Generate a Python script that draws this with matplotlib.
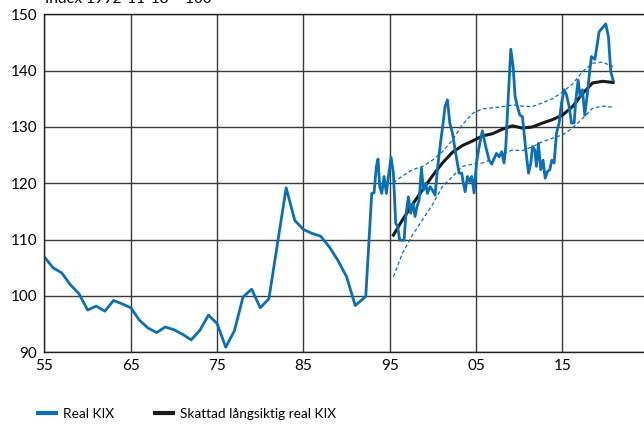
import matplotlib.pyplot as plt
from matplotlib.lines import Line2D

plt.rcParams['font.family'] = ['Lato', 'DejaVu Sans']

# annual values 1955-1991
years_annual = list(range(1955, 1992))
kix_annual = [106.9, 105.0, 104.1, 102.0, 100.4, 97.5, 98.2, 97.3, 99.2, 98.6,
              97.9, 95.7, 94.3, 93.5, 94.5, 94.0, 93.2, 92.2, 93.9, 96.6,
              95.1, 90.9, 93.8, 99.8, 101.2, 97.9, 99.5, 109.3, 119.2, 113.4,
              111.8, 111.1, 110.6, 108.7, 106.3, 103.4, 98.3]

# higher frequency values from 1992
years_recent = [1992.22, 1992.91, 1993.18, 1993.45, 1993.64, 1993.84, 1994.07, 1994.34,
                1994.61, 1994.84, 1995.15, 1995.42, 1995.69, 1995.92, 1996.15, 1996.66,
                1996.85, 1997.16, 1997.43, 1997.70, 1997.93, 1998.16, 1998.40, 1998.67,
                1998.90, 1999.17, 1999.36, 1999.67, 1999.94, 2000.25, 2000.56, 2000.87,
                2001.18, 2001.41, 2001.68, 2001.95, 2002.26, 2002.64, 2003.03, 2003.34,
                2003.49, 2003.73, 2004.00, 2004.27, 2004.50, 2004.77, 2005.04, 2005.42,
                2005.73, 2006.12, 2006.51, 2006.82, 2007.09, 2007.36, 2007.67, 2007.97,
                2008.24, 2008.44, 2008.71, 2009.02, 2009.29, 2009.52, 2009.79, 2010.07,
                2010.37, 2010.76, 2011.07, 2011.34, 2011.53, 2011.80, 2011.99, 2012.22,
                2012.49, 2012.76, 2013.00, 2013.27, 2013.54, 2013.77, 2014.04, 2014.31,
                2014.62, 2014.89, 2015.20, 2015.47, 2015.78, 2016.05, 2016.36, 2016.55,
                2016.82, 2017.05, 2017.32, 2017.59, 2017.90, 2018.09, 2018.36, 2018.75,
                2018.94, 2019.25, 2020.02, 2020.33, 2020.60, 2020.87]
kix_recent = [99.9, 118.2, 118.3, 123.0, 124.3, 119.4, 118.2, 121.2,
              118.2, 121.2, 124.6, 121.8, 112.9, 112.3, 109.9, 109.9,
              114.1, 117.6, 114.7, 116.4, 114.1, 115.9, 117.0, 122.7,
              118.8, 120.0, 118.2, 119.4, 118.8, 117.9, 123.0, 127.1,
              130.7, 133.7, 134.8, 130.7, 128.9, 125.3, 121.8, 121.8,
              120.3, 118.5, 121.2, 120.3, 121.2, 118.3, 123.6, 127.1,
              129.3, 126.5, 124.1, 123.4, 124.4, 125.3, 124.7, 125.6,
              123.6, 126.5, 134.8, 143.8, 140.7, 135.4, 133.6, 132.1,
              131.8, 125.9, 121.8, 123.6, 126.5, 125.9, 123.0, 127.1,
              122.4, 124.1, 120.9, 122.1, 122.4, 124.1, 123.6, 128.9,
              130.7, 134.2, 136.6, 135.7, 133.6, 130.7, 130.7, 134.8,
              138.3, 135.4, 136.6, 132.1, 136.0, 138.9, 142.5, 142.0,
              143.7, 146.9, 148.3, 146.0, 139.8, 138.3]

# estimated long-run real KIX with band
years_trend = [1995.42, 1996.47, 1997.62, 1998.78, 1999.94, 2001.10, 2002.26, 2003.42,
               2004.57, 2005.73, 2006.90, 2008.05, 2009.20, 2010.37, 2011.53, 2012.70,
               2013.85, 2015.00, 2016.16, 2017.32, 2018.48, 2019.64, 2020.87]
trend = [110.8, 113.5, 116.2, 118.8, 121.3, 123.6, 125.5, 126.7,
         127.5, 128.4, 128.8, 129.6, 130.2, 129.8, 130.0, 130.7,
         131.3, 132.1, 133.6, 135.9, 137.8, 138.1, 137.9]
upper = [120.1, 121.3, 122.4, 123.0, 124.1, 125.6, 127.7, 130.4,
         132.4, 133.2, 133.4, 133.6, 133.9, 133.7, 133.6, 134.3,
         135.0, 136.2, 137.6, 139.8, 141.3, 141.5, 140.7]
lower = [103.4, 107.6, 110.8, 113.5, 116.2, 119.4, 121.2, 123.0,
         123.4, 123.6, 124.3, 125.2, 125.9, 125.8, 126.5, 127.4,
         128.0, 128.6, 129.8, 131.5, 133.3, 133.7, 133.5]

xticks = [1955, 1965, 1975, 1985, 1995, 2005, 2015]
xticklabels = ["55", "65", "75", "85", "95", "05", "15"]
yticks = [90, 100, 110, 120, 130, 140, 150]

blue = "#0a6fb5"

fig = plt.figure(figsize=(6.44, 4.26), dpi=100)
ax = fig.add_axes([0.069, 0.173, 0.931, 0.7935])

kix_x = years_annual + years_recent
kix_y = kix_annual + kix_recent
ax.plot(years_trend, upper, color=blue, linewidth=0.9, linestyle=(0, (3, 2)))
ax.plot(years_trend, lower, color=blue, linewidth=0.9, linestyle=(0, (3, 2)))
ax.plot(years_trend, trend, color="#1a1a1a", linewidth=2.2)
ax.plot(kix_x, kix_y, color=blue, linewidth=2.0)

ax.set_xlim(1955, 2024.45)
ax.set_ylim(90, 150)
ax.set_xticks(xticks)
ax.set_xticklabels(xticklabels)
ax.set_yticks(yticks)
ax.tick_params(length=0, labelsize=11, pad=5)
ax.grid(True, color="#3a3a3a", linewidth=1.0)
ax.set_axisbelow(True)
for side in ["top", "bottom", "left"]:
    ax.spines[side].set_color("#222222")
    ax.spines[side].set_linewidth(1.0)
ax.spines["right"].set_visible(False)

# unit label, partly outside the top edge as in the source
fig.text(0.07, 1 - 3 / 426, "Index 1992-11-18 = 100", fontsize=11, va="baseline", ha="left")

handles = [Line2D([], [], color=blue, linewidth=3),
           Line2D([], [], color="#1a1a1a", linewidth=3)]
fig.legend(handles, ["Real KIX", "Skattad långsiktig real KIX"], loc="center left",
           bbox_to_anchor=(0.04, 0.028), ncol=2, frameon=False, fontsize=9.8,
           handlelength=1.3, handletextpad=0.55, columnspacing=3.0)

fig.savefig("out.png", dpi=100)
